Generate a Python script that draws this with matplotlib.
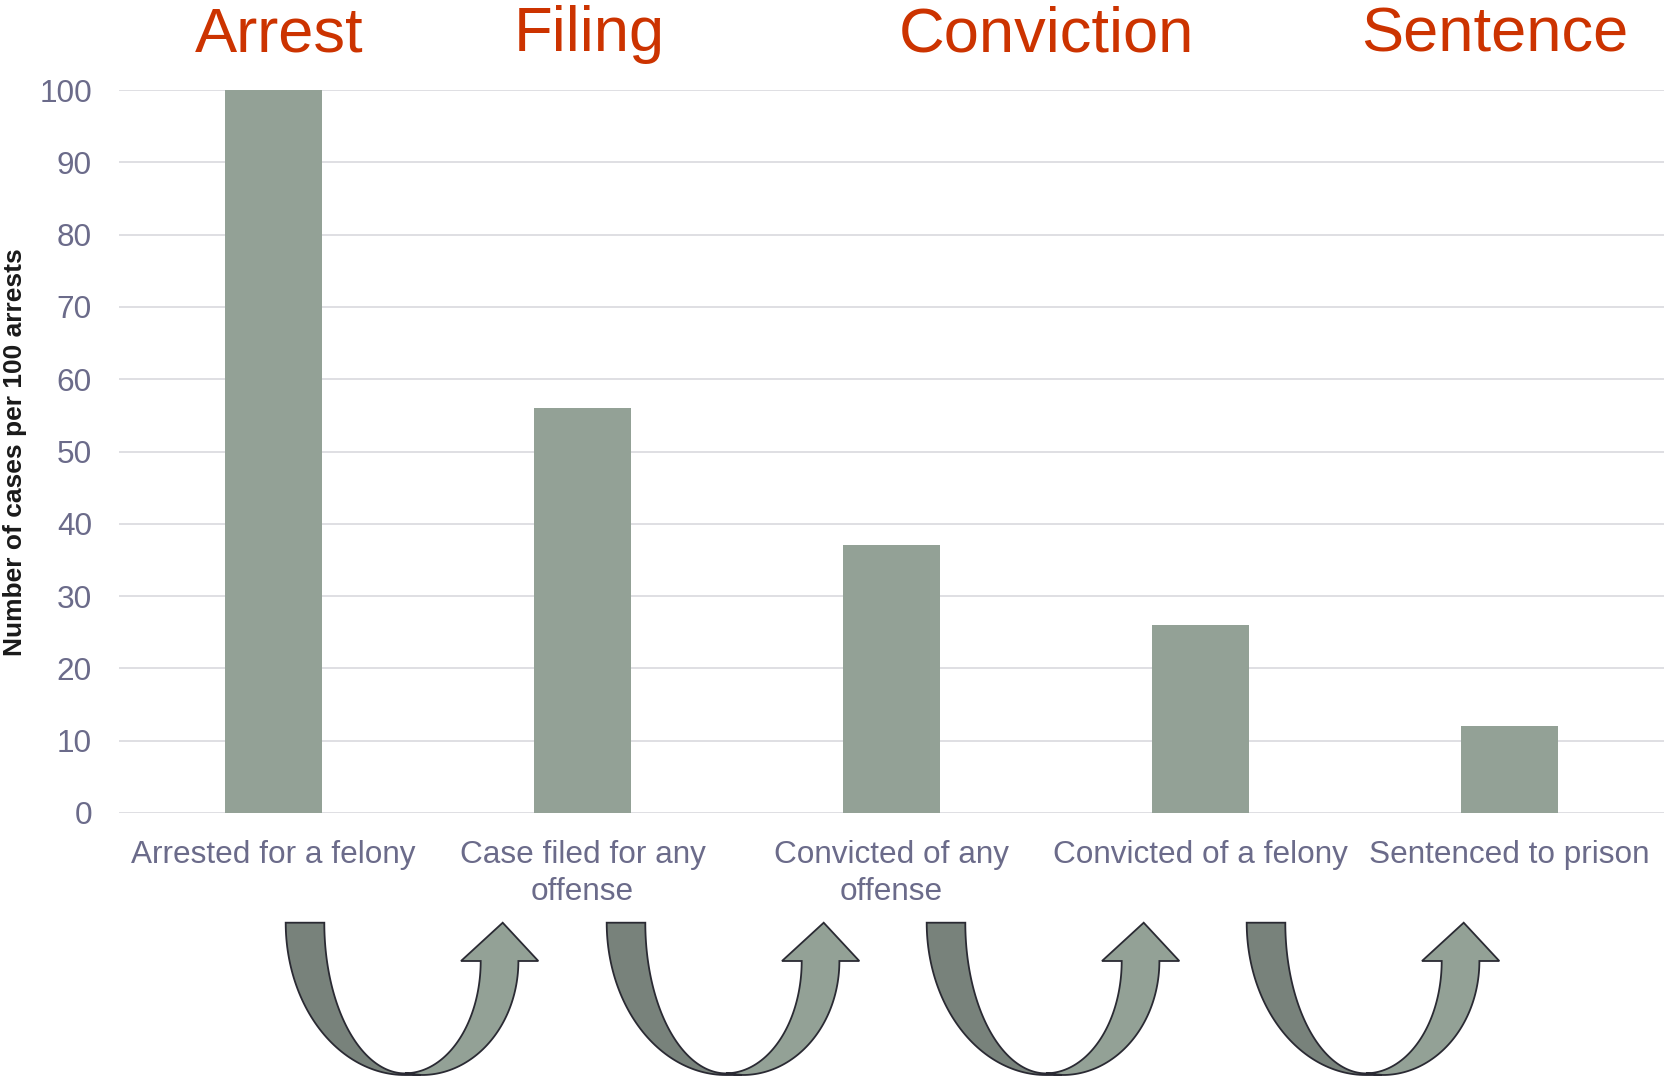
import numpy as np
import matplotlib
matplotlib.use("Agg")
import matplotlib.pyplot as plt
from matplotlib.patches import Polygon

plt.rcParams['font.family'] = ['Liberation Sans', 'DejaVu Sans']

# ---- data ----
categories = ["Arrested for a felony", "Case filed for any\noffense",
              "Convicted of any\noffense", "Convicted of a felony",
              "Sentenced to prison"]
values = [100, 56, 37, 26, 12]
yticks = [0, 10, 20, 30, 40, 50, 60, 70, 80, 90, 100]
stages = ["Arrest", "Filing", "Conviction", "Sentence"]
ylabel = "Number of cases per 100 arrests"

W, H = 1665, 1084
fig = plt.figure(figsize=(W / 100, H / 100), dpi=100)

bar_color = "#93A196"
tick_color = "#6B6B8A"
grid_color = "#D9D9DE"

ax = fig.add_axes([119 / W, 1 - 813 / H, 1545 / W, (813 - 90) / H])
x = np.arange(len(categories))
ax.bar(x, values, width=0.314, color=bar_color, zorder=3)
ax.set_xlim(-0.5, len(categories) - 0.5)
ax.set_ylim(0, 100)
ax.set_yticks(yticks)
ax.set_xticks(x)
ax.set_xticklabels(categories)
ax.yaxis.grid(True, color=grid_color, linewidth=1.2, zorder=0)
ax.set_axisbelow(True)
for s in ax.spines.values():
    s.set_visible(False)
ax.tick_params(axis='both', length=0, labelsize=22.7, labelcolor=tick_color)
ax.tick_params(axis='y', pad=19.5)
ax.tick_params(axis='x', pad=19.5)
for lab in ax.get_xticklabels():
    lab.set_linespacing(1.28)

fig.text(15 / W, 1 - 452 / H, ylabel, rotation=90, ha='center', va='center',
         fontsize=19, fontweight='bold', color='#1A1A1A')

# stage headers
stage_x = [279, 589, 1046, 1495]
for s, sx in zip(stages, stage_x):
    fig.text(sx / W, 1 - 51 / H, s, ha='center', va='baseline',
             fontsize=45.5, color='#CC3300')

# ---- U-turn arrows (decoration in pixel coordinates) ----
ov = fig.add_axes([0, 0, 1, 1], zorder=-1)
ov.set_xlim(0, W)
ov.set_ylim(H, 0)
ov.axis('off')

dark = "#78827B"
light = "#93A196"
edge = "#2A2A33"

def uarrow(x0):
    ytop = 922.7
    cx = x0 + 119
    t = np.linspace(0, np.pi / 2, 60)
    # left band
    ox = cx - 119.3 * np.cos(t)
    oy = ytop + 152.3 * np.sin(t)
    ix = cx - 80.7 * np.cos(t)
    iy = ytop + 150.7 * np.sin(t)
    pts = list(zip(ox, oy)) + [(cx + 16, 1075)] + list(zip(ix[::-1], iy[::-1]))
    ov.add_patch(Polygon(pts, closed=True, facecolor=dark, edgecolor=edge,
                         linewidth=1.3, joinstyle='miter'))
    # right band with head
    yb = 961
    t2 = np.linspace(0, np.pi / 2, 60)
    inx = cx + 75.7 * np.sin(t2)
    iny = yb + 112.3 * np.cos(t2)
    outx = (cx + 16.7) + 96.7 * np.sin(t2)
    outy = yb + 114 * np.cos(t2)
    head = [(cx + 56, yb), (cx + 97.7, ytop), (cx + 133.3, yb)]
    pts2 = list(zip(inx, iny)) + head + list(zip(outx[::-1], outy[::-1]))
    ov.add_patch(Polygon(pts2, closed=True, facecolor=light, edgecolor=edge,
                         linewidth=1.3, joinstyle='miter'))

for x0 in [286, 607, 927, 1247]:
    uarrow(x0)

fig.savefig("out.png", dpi=100, facecolor='white')
